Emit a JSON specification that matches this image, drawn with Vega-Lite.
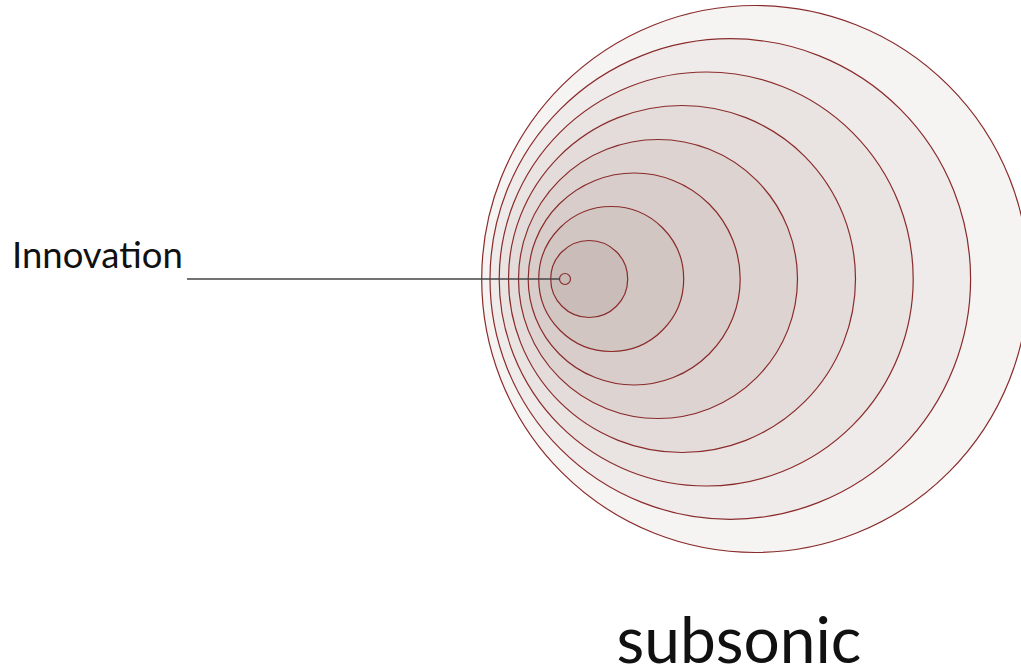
{
  "$schema": "https://vega.github.io/schema/vega-lite/v6.json",
  "width": 1021,
  "height": 672,
  "autosize": {"type": "none"},
  "padding": 0,
  "background": "white",
  "config": {"view": {"stroke": null}},
  "datasets": {
    "waves": [
      {"wave": 8, "cx": 190.2, "r": 273.5},
      {"wave": 7, "cx": 165.3, "r": 240.3},
      {"wave": 6, "cx": 141.2, "r": 207},
      {"wave": 5, "cx": 117, "r": 173.5},
      {"wave": 4, "cx": 93, "r": 139.5},
      {"wave": 3, "cx": 69.2, "r": 106},
      {"wave": 2, "cx": 46.2, "r": 72.5},
      {"wave": 1, "cx": 24.2, "r": 38.5},
      {"wave": 0, "cx": 0, "r": 5.5}
    ],
    "leader": [{"x": -378, "x2": -5.5, "y": 0}],
    "labels": [
      {"label": "Innovation", "x": -553, "y": 11.5}
    ],
    "titles": [
      {"label": "subsonic", "x": 174, "y": -384}
    ]
  },
  "layer": [
    {
      "data": {"name": "waves"},
      "mark": {"type": "circle", "opacity": 1, "stroke": "#8a2b2b", "strokeWidth": 1.2},
      "encoding": {
        "x": {"field": "cx", "type": "quantitative", "scale": {"domain": [-565, 456], "nice": false, "zero": false}, "axis": null},
        "y": {"datum": 0, "type": "quantitative", "scale": {"domain": [-393, 279], "nice": false, "zero": false}, "axis": null},
        "size": {"field": "r", "type": "quantitative", "scale": {"type": "pow", "exponent": 2, "domain": [0, 300], "range": [0, 360000]}, "legend": null},
        "color": {"field": "wave", "type": "ordinal", "scale": {"domain": [0, 1, 2, 3, 4, 5, 6, 7, 8], "range": ["#c8b9b5", "#cabcb8", "#d2c6c2", "#d8cdca", "#ddd4d1", "#e3dcda", "#e9e4e2", "#efebea", "#f6f4f3"]}, "legend": null},
        "order": {"field": "r", "type": "quantitative", "sort": "descending"}
      }
    },
    {
      "data": {"name": "leader"},
      "mark": {"type": "rule", "color": "#444444", "strokeWidth": 1.3},
      "encoding": {
        "x": {"field": "x", "type": "quantitative"},
        "x2": {"field": "x2"},
        "y": {"field": "y", "type": "quantitative"}
      }
    },
    {
      "data": {"name": "labels"},
      "mark": {"type": "text", "font": "Lato", "fontSize": 36.5, "align": "left", "baseline": "alphabetic", "color": "#111111"},
      "encoding": {
        "x": {"field": "x", "type": "quantitative"},
        "y": {"field": "y", "type": "quantitative"},
        "text": {"field": "label"}
      }
    },
    {
      "data": {"name": "titles"},
      "mark": {"type": "text", "font": "Lato", "fontSize": 64, "align": "center", "baseline": "alphabetic", "color": "#111111"},
      "encoding": {
        "x": {"field": "x", "type": "quantitative"},
        "y": {"field": "y", "type": "quantitative"},
        "text": {"field": "label"}
      }
    }
  ]
}
